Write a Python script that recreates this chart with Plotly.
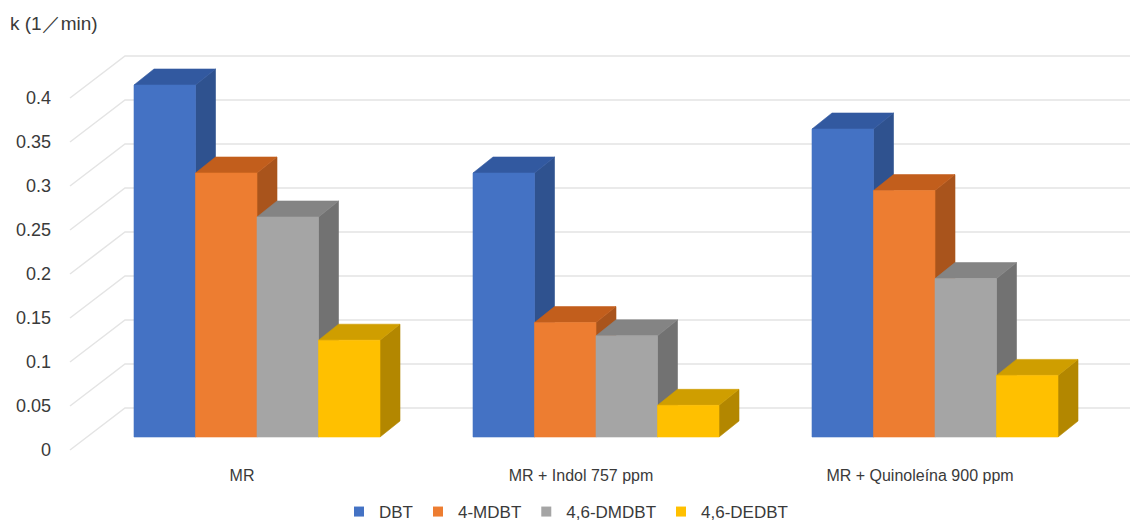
import plotly.graph_objects as go

# Rate constants k (1/min) for each sulfur compound under each feed condition
categories = ["MR", "MR + Indol 757 ppm", "MR + Quinoleína 900 ppm"]
series_names = ["DBT", "4-MDBT", "4,6-DMDBT", "4,6-DEDBT"]
dbt = [0.40, 0.30, 0.35]
mdbt = [0.30, 0.13, 0.28]
dmdbt = [0.25, 0.115, 0.18]
dedbt = [0.11, 0.036, 0.07]
y_ticks = [0, 0.05, 0.1, 0.15, 0.2, 0.25, 0.3, 0.35, 0.4]
y_tick_labels = ["0", "0.05", "0.1", "0.15", "0.2", "0.25", "0.3", "0.35", "0.4"]

series_values = [dbt, mdbt, dmdbt, dedbt]
front_colors = ["#4472C4", "#ED7D31", "#A5A5A5", "#FFC000"]
side_colors = ["#2F528F", "#A9541C", "#727272", "#B38700"]
top_colors = ["#3259A0", "#C25E1C", "#848484", "#CF9E00"]

W, H = 1130, 523
M_L, M_R, M_T, M_B = 60, 0, 40, 65
PX_PER_CAT = 339.0      # pixels between category centres
PX_PER_UNIT = 880.0     # pixels per unit of k
CAT0_PX = 257.0         # pixel position of the first category centre
ZERO_PX = 437.0         # pixel row of k = 0 on the bar fronts

def px_x(px):
    return (px - CAT0_PX) / PX_PER_CAT

def dy_px(px):
    return px / PX_PER_UNIT

BAR_W = 61.5 / PX_PER_CAT
DEPTH_X = 20.0 / PX_PER_CAT
DEPTH_Y = dy_px(16)
WALL_Y = dy_px(29)          # back wall sits higher than the bar fronts
WALL_LEFT = px_x(125)
DIAG_LEFT = px_x(70)
LABEL_SHIFT = dy_px(13)

x_range = [px_x(M_L), px_x(W - M_R)]
plot_h = H - M_T - M_B
y_range = [-(H - M_B - ZERO_PX) / PX_PER_UNIT, (ZERO_PX - M_T) / PX_PER_UNIT]

fig = go.Figure()

# Back wall grid lines with the receding side-wall diagonals
gx, gy = [], []
for v in y_ticks:
    gx += [DIAG_LEFT, WALL_LEFT, x_range[1] + 0.1, None]
    gy += [v - LABEL_SHIFT, v + WALL_Y, v + WALL_Y, None]
fig.add_trace(go.Scatter(x=gx, y=gy, mode="lines",
                         line=dict(color="#E4E4E4", width=1.5),
                         hoverinfo="skip", showlegend=False))

def poly(xs, ys, color):
    fig.add_trace(go.Scatter(x=xs + [xs[0]], y=ys + [ys[0]], mode="lines",
                             fill="toself", fillcolor=color,
                             line=dict(color=color, width=0.6),
                             hoverinfo="skip", showlegend=False))

# Pseudo-3D columns: side, top, then front face, drawn left to right
for i, _ in enumerate(categories):
    for j, vals in enumerate(series_values):
        v = vals[i]
        xl = i - 2 * BAR_W + j * BAR_W
        xr = xl + BAR_W
        poly([xr, xr + DEPTH_X, xr + DEPTH_X, xr],
             [0, DEPTH_Y, v + DEPTH_Y, v], side_colors[j])
        poly([xl, xl + DEPTH_X, xr + DEPTH_X, xr],
             [v, v + DEPTH_Y, v + DEPTH_Y, v], top_colors[j])
        poly([xl, xr, xr, xl], [0, 0, v, v], front_colors[j])

# Legend entries
for name, color in zip(series_names, front_colors):
    fig.add_trace(go.Scatter(x=[None], y=[None], mode="markers", name=name,
                             marker=dict(symbol="square", size=10, color=color)))

font_family = "Liberation Sans, Arial, sans-serif"
text_color = "#3A3A3A"

fig.update_layout(
    width=W, height=H,
    margin=dict(l=M_L, r=M_R, t=M_T, b=M_B, autoexpand=False),
    paper_bgcolor="white", plot_bgcolor="white",
    font=dict(family=font_family, size=18, color=text_color),
    title=dict(text="k (1／min)", x=10 / W, y=1 - 23 / H, xref="container",
               yref="container", xanchor="left", yanchor="middle",
               font=dict(size=19, color=text_color)),
    xaxis=dict(range=x_range, tickvals=[0, 1, 2], ticktext=categories,
               showgrid=False, zeroline=False, showline=False, ticks="",
               ticklabelshift=-15, ticklabelstandoff=6, tickfont=dict(size=16)),
    yaxis=dict(range=y_range, tickvals=y_ticks, ticktext=y_tick_labels,
               showgrid=False, zeroline=False, showline=False, ticks="",
               ticklabelshift=13, ticklabelstandoff=8, tickfont=dict(size=18)),
    legend=dict(orientation="h", x=(566 - M_L) / (W - M_L - M_R), xanchor="center",
                y=-(512 - (H - M_B)) / plot_h, yanchor="middle",
                font=dict(size=17), itemwidth=30, tracegroupgap=0),
    hovermode=False,
)

fig.write_html("out.html")
